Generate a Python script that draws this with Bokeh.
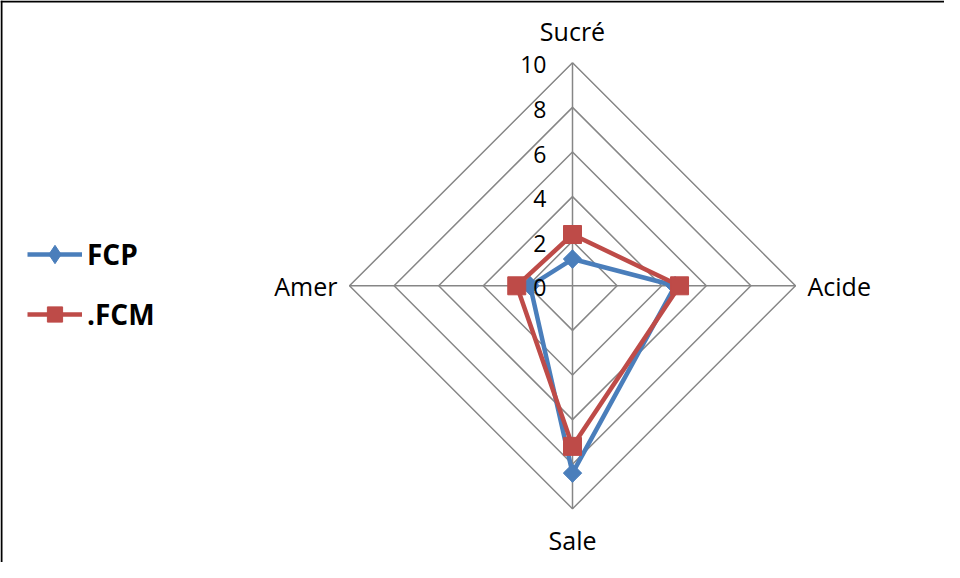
import numpy as np
from bokeh.plotting import figure
from bokeh.models import ColumnDataSource, Span, Legend, LegendItem
from bokeh.core.properties import value
from bokeh.embed import file_html
from bokeh.resources import INLINE

# ---- data ----
axes_labels = ["Sucré", "Acide", "Sale", "Amer"]
axes_angles_deg = [90, 0, -90, 180]
fcp_values = [1.2, 4.6, 8.4, 1.9]
fcm_values = [2.3, 4.8, 7.2, 2.5]
ring_levels = [2, 4, 6, 8, 10]
tick_labels = ["0", "2", "4", "6", "8", "10"]
tick_values = [0, 2, 4, 6, 8, 10]
max_value = 10

W, H = 944, 562
s = 22.3                     # px per unit
cx, cy = 572, 285.3          # centre in figure pixels

p = figure(width=W, height=H, output_backend="svg", toolbar_location=None,
           x_range=(-cx / s, (W - cx) / s), y_range=(-(H - cy) / s, cy / s),
           min_border=0, min_border_left=0, min_border_right=0,
           min_border_top=0, min_border_bottom=0)
p.axis.visible = False
p.grid.visible = False
p.outline_line_color = None
p.background_fill_color = "white"

ang = np.deg2rad(axes_angles_deg)
cosv, sinv = np.cos(ang), np.sin(ang)

# rings
for lv in ring_levels:
    xs = list(lv * cosv) + [lv * cosv[0]]
    ys = list(lv * sinv) + [lv * sinv[0]]
    p.line(xs, ys, line_color="#868686", line_width=1.5)
# spokes
for c, sn in zip(cosv, sinv):
    p.line([0, max_value * c], [0, max_value * sn], line_color="#868686", line_width=1.5)

BLUE, RED = "#4A7EBB", "#BE4B48"

# FCP
v = np.array(fcp_values)
bx, by = v * cosv, v * sinv
b_ln = p.line(list(bx) + [bx[0]], list(by) + [by[0]], line_color=BLUE, line_width=4.5)
b_leg = p.scatter(bx, by, marker="diamond", size=18, fill_color=BLUE, line_color=BLUE)
b_mk = p.scatter(bx, by, marker="square", size=13, angle=np.pi / 4,
                 fill_color=BLUE, line_color=BLUE)

# FCM
v = np.array(fcm_values)
rx, ry = v * cosv, v * sinv
r_ln = p.line(list(rx) + [rx[0]], list(ry) + [ry[0]], line_color=RED, line_width=4.5)
r_mk = p.scatter(rx, ry, marker="square", size=18, fill_color=RED, line_color=RED)

# tick labels
p.text(x=[0] * len(tick_values), y=tick_values, text=tick_labels,
       x_offset=-26, y_offset=2, text_align="right", text_baseline="middle",
       text_font=value("Open Sans"), text_font_size="23px", text_color="black")

# axis labels
lab_off_x = [0, 12, 0, -12]
lab_off_y = [-32, 0, 31, 0]
aligns = ["center", "left", "center", "right"]
src = ColumnDataSource(dict(x=max_value * cosv, y=max_value * sinv, t=axes_labels,
                            xo=lab_off_x, yo=lab_off_y, al=aligns))
p.text(x="x", y="y", text="t", x_offset="xo", y_offset="yo", text_align="al",
       text_baseline="middle", source=src, text_font=value("Open Sans"),
       text_font_size="25px", text_color="black")

# legends (split so each marker gets its own glyph size)
common = dict(glyph_width=55, label_standoff=5, padding=0, margin=0,
              border_line_color=None, background_fill_alpha=0,
              label_text_font="Open Sans", label_text_font_size="28px",
              label_text_font_style="bold", label_text_color="black")
leg1 = Legend(items=[LegendItem(label="FCP", renderers=[b_ln, b_leg])],
              location=(27, 285), glyph_height=46, **common)
leg2 = Legend(items=[LegendItem(label=".FCM", renderers=[r_ln, r_mk])],
              location=(27, 229), glyph_height=38, **common)
p.add_layout(leg1, "center")
p.add_layout(leg2, "center")

# frame border (left and top)
xr0 = -cx / s
yr1 = cy / s
p.add_layout(Span(location=xr0 + 1 / s, dimension="height", line_color="black", line_width=2))
p.add_layout(Span(location=yr1 - 1 / s, dimension="width", line_color="black", line_width=2))

open("out.html", "w").write(file_html(p, INLINE))
